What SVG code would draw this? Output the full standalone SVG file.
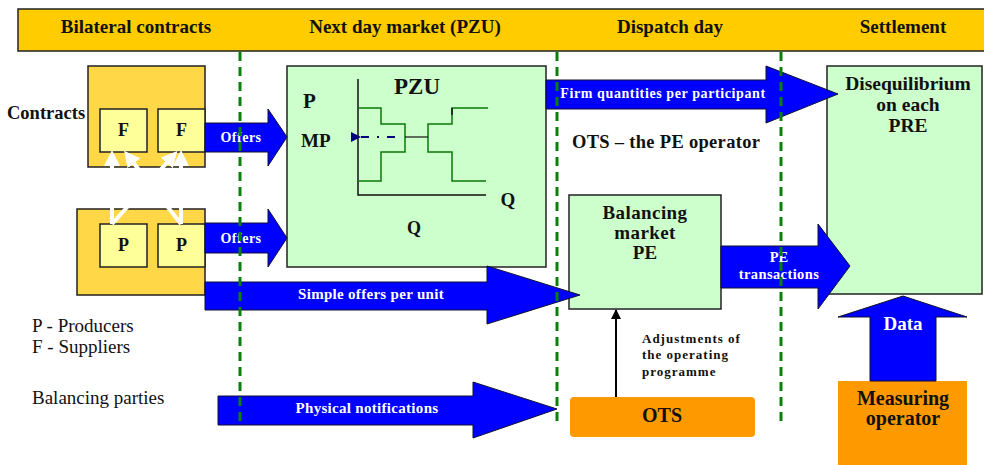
<svg xmlns="http://www.w3.org/2000/svg" width="984" height="465" viewBox="0 0 984 465" font-family="'Liberation Serif', 'DejaVu Serif', 'Times New Roman', serif">
<defs>
<style>
.t{font-weight:bold;fill:#111}
.w{font-weight:bold;fill:#fff}
.r{fill:#111;font-size:19px}
.arr{fill:#0000ff;stroke:#101030;stroke-width:1}
.gold{fill:#ffd747;stroke:#222;stroke-width:1.5}
.lt{fill:#ffff99;stroke:#222;stroke-width:1.5}
.grn{fill:#ccffcc;stroke:#222;stroke-width:1.5}
.org{fill:#ff9900}
.dash{stroke:#0a800a;stroke-width:3;stroke-dasharray:9 6;fill:none}
.step{stroke:#0a7a0a;stroke-width:1.5;fill:none}
</style>
<marker id="wh" markerWidth="4" markerHeight="4" refX="2" refY="2" orient="auto" markerUnits="strokeWidth"><path d="M0,0 L4,2 L0,4 Z" fill="#fff"/></marker>
<marker id="bk" markerWidth="10" markerHeight="10" refX="9" refY="5" orient="auto" markerUnits="userSpaceOnUse"><path d="M0,0 L10,5 L0,10 Z" fill="#000"/></marker>
<marker id="nv" markerWidth="10" markerHeight="10" refX="1" refY="5" orient="auto" markerUnits="userSpaceOnUse"><path d="M10,0 L0,5 L10,10 Z" fill="#000080"/></marker>
</defs>
<rect width="984" height="465" fill="#fff"/>

<g id="header">
<rect x="18" y="9" width="970" height="42" fill="#ffcc00" stroke="#222" stroke-width="1.5"/>
<text class="t" x="136" y="33" font-size="19" text-anchor="middle">Bilateral contracts</text>
<text class="t" x="405" y="33" font-size="19" text-anchor="middle">Next day market (PZU)</text>
<text class="t" x="670" y="33" font-size="19" text-anchor="middle">Dispatch day</text>
<text class="t" x="903" y="33" font-size="19" text-anchor="middle">Settlement</text>
</g>

<g id="contracts-label"><text class="t" x="7" y="119" font-size="18.5">Contracts</text></g>

<g id="suppliers">
<rect class="gold" x="88" y="66" width="117" height="101"/>
<rect class="lt" x="100" y="109" width="47" height="43"/>
<rect class="lt" x="158" y="109" width="47" height="43"/>
<text class="t" x="123.5" y="136" font-size="18" text-anchor="middle">F</text>
<text class="t" x="181.5" y="136" font-size="18" text-anchor="middle">F</text>
</g>

<g id="producers">
<rect class="gold" x="77" y="209" width="128" height="86"/>
<rect class="lt" x="100" y="224" width="47" height="43"/>
<rect class="lt" x="158" y="224" width="47" height="43"/>
<text class="t" x="123.5" y="251" font-size="18" text-anchor="middle">P</text>
<text class="t" x="181.5" y="251" font-size="18" text-anchor="middle">P</text>
</g>

<g id="pzu">
<rect class="grn" x="287" y="66" width="259" height="201"/>
<text class="t" x="303" y="108" font-size="21">P</text>
<text class="t" x="301" y="147" font-size="19">MP</text>
<text class="t" x="417" y="94" font-size="23" text-anchor="middle">PZU</text>
<polyline points="358,79 358,195 486,195" fill="none" stroke="#111" stroke-width="1.5"/>
<polyline class="step" points="358,108 381,108 381,124 405,124 405,152 381,152 381,181 358,181"/>
<polyline class="step" points="488,108 452,108 452,124 428,124 428,152 452,152 452,181 486,181"/>
<polyline points="452,108 452,115" stroke="#111" stroke-width="1.5"/>
<line x1="405" y1="137" x2="428" y2="137" stroke="#111" stroke-width="1.2"/>
<line x1="395" y1="137" x2="360" y2="137" stroke="#000080" stroke-width="2" stroke-dasharray="8 8 2 8" marker-end="url(#nv)"/>
<text class="t" x="508" y="206" font-size="19" text-anchor="middle">Q</text>
<text class="t" x="414" y="234" font-size="18" text-anchor="middle">Q</text>
</g>

<g id="balancing-market">
<rect class="grn" x="569" y="195" width="152" height="114"/>
<text class="t" x="645" y="219" font-size="19" letter-spacing="0.4" text-anchor="middle">Balancing</text>
<text class="t" x="645" y="239" font-size="19" letter-spacing="0.4" text-anchor="middle">market</text>
<text class="t" x="645" y="259" font-size="19" text-anchor="middle">PE</text>
</g>

<g id="disequilibrium">
<rect class="grn" x="827" y="66" width="155" height="228"/>
<text class="t" x="908" y="90" font-size="19.5" text-anchor="middle">Disequilibrium</text>
<text class="t" x="908" y="111" font-size="19.5" text-anchor="middle">on each</text>
<text class="t" x="908" y="132" font-size="19.5" text-anchor="middle">PRE</text>
</g>

<g id="ots-operator-label"><text class="t" x="572" y="148" font-size="18.5" letter-spacing="0.3">OTS – the PE operator</text></g>

<g id="ots">
<rect class="org" x="570" y="397" width="185" height="40" rx="4"/>
<text class="t" x="662" y="422" font-size="20" text-anchor="middle">OTS</text>
</g>

<g id="measuring-operator">
<rect class="org" x="838" y="381" width="129" height="84"/>
<text class="t" x="903" y="405" font-size="20" text-anchor="middle">Measuring</text>
<text class="t" x="903" y="425" font-size="20" text-anchor="middle">operator</text>
</g>

<g id="legend">
<text class="r" x="32" y="332">P - Producers</text>
<text class="r" x="32" y="353">F - Suppliers</text>
<text class="r" x="32" y="404">Balancing parties</text>
</g>

<g id="connectors">
<g stroke="#fff" stroke-width="4" fill="none">
<line x1="112" y1="224" x2="112" y2="158" marker-end="url(#wh)"/>
<line x1="181" y1="224" x2="181" y2="158" marker-end="url(#wh)"/>
<line x1="112" y1="224" x2="172" y2="157" marker-end="url(#wh)"/>
<line x1="181" y1="224" x2="129" y2="157" marker-end="url(#wh)"/>
</g>
<path class="arr" d="M205,123 L268,123 L268,109 L287,137 L268,166 L268,152 L205,152 Z"/>
<text class="w" x="241" y="142" style="font-size:14px" letter-spacing="0.5" text-anchor="middle">Offers</text>
<path class="arr" d="M205,223 L268,223 L268,209 L287,238 L268,267 L268,253 L205,253 Z"/>
<text class="w" x="241" y="243" style="font-size:14px" letter-spacing="0.5" text-anchor="middle">Offers</text>
<path class="arr" d="M546,80 L766,80 L766,66 L838,94 L766,123 L766,109 L546,109 Z"/>
<text class="w" x="663" y="98" style="font-size:14px" text-anchor="middle" letter-spacing="0.6">Firm quantities per participant</text>
<path class="arr" d="M205,282 L487,282 L487,266 L580,295 L487,324 L487,310 L205,310 Z"/>
<text class="w" x="371" y="299" style="font-size:15px" letter-spacing="0.3" text-anchor="middle">Simple offers per unit</text>
<path class="arr" d="M218,396 L473,396 L473,382 L557,409 L473,438 L473,425 L218,425 Z"/>
<text class="w" x="367" y="413" style="font-size:15px" letter-spacing="0.3" text-anchor="middle">Physical notifications</text>
<path class="arr" d="M721,246 L818,246 L818,224 L850,266 L818,309 L818,288 L721,288 Z"/>
<text class="w" x="779" y="262" style="font-size:14.5px" text-anchor="middle">PE</text>
<text class="w" x="779" y="279" style="font-size:14.5px" text-anchor="middle" letter-spacing="0.4">transactions</text>
<path class="arr" d="M870,381 L870,317 L838,317 L903,296 L967,317 L936,317 L936,381 Z"/>
<text class="w" x="903" y="330" style="font-size:19px" text-anchor="middle">Data</text>
<line x1="616" y1="397" x2="616" y2="310" stroke="#000" stroke-width="2" marker-end="url(#bk)"/>
<text class="t" x="642" y="343" font-size="13" letter-spacing="1">Adjustments of</text>
<text class="t" x="642" y="359" font-size="13" letter-spacing="1">the operating</text>
<text class="t" x="642" y="376" font-size="13" letter-spacing="1">programme</text>
<line class="dash" x1="240" y1="52" x2="240" y2="425"/>
<line class="dash" x1="557" y1="52" x2="557" y2="425"/>
<line class="dash" x1="781" y1="52" x2="781" y2="423"/>
</g>
</svg>
